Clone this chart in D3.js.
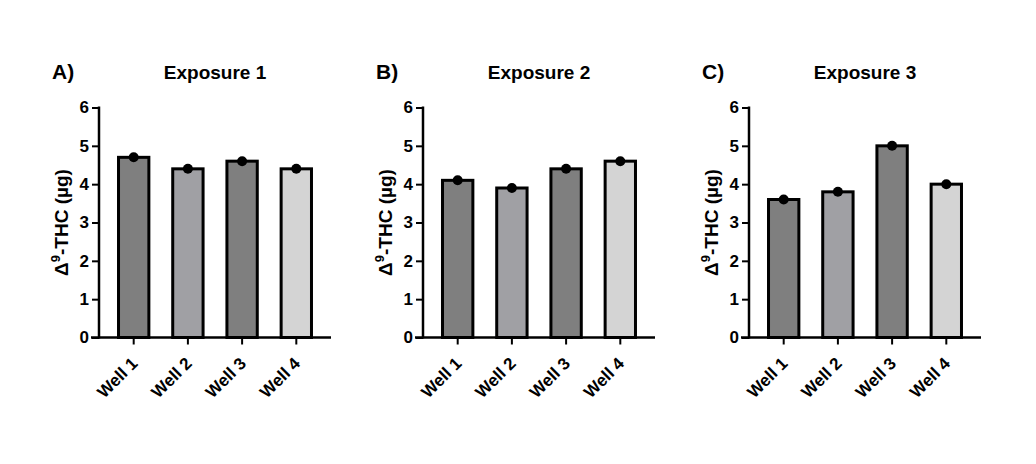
<!DOCTYPE html>
<html>
<head>
<meta charset="utf-8">
<script src="https://cdn.jsdelivr.net/npm/d3@7"></script>
<style>
  body { margin: 0; background: #fff; }
  svg text { font-family: "Liberation Sans", Arial, sans-serif; font-weight: bold; fill: #000; }
</style>
</head>
<body>
<svg id="chart" width="1036" height="464"></svg>
<script>
const wells = ['Well 1', 'Well 2', 'Well 3', 'Well 4'];
const panelLabels = ['A)', 'B)', 'C)'];
const panelTitles = ['Exposure 1', 'Exposure 2', 'Exposure 3'];
const exposure1 = [4.7, 4.4, 4.6, 4.4];
const exposure2 = [4.1, 3.9, 4.4, 4.6];
const exposure3 = [3.6, 3.8, 5.0, 4.0];
const yTicks = [0, 1, 2, 3, 4, 5, 6];
const wellColors = ['#7f7f7f', '#a0a0a4', '#7f7f7f', '#d4d4d4'];

const series = [exposure1, exposure2, exposure3];

const width = 232;
const height = 230;
const panelLeft = [99, 423, 749];
const plotTop = 107.5;

const svg = d3.select('#chart');

const scaleX = d3.scaleBand()
  .domain(wells)
  .range([0, width])
  .paddingInner(0.44)
  .paddingOuter(0.36);

const scaleY = d3.scaleLinear()
  .domain([0, 6])
  .range([height, 0]);

series.forEach((values, p) => {
  const g = svg.append('g')
    .attr('transform', `translate(${panelLeft[p]}, ${plotTop})`);

  // panel letter and title
  g.append('text')
    .attr('x', -47)
    .attr('y', -29)
    .attr('font-size', 21)
    .text(panelLabels[p]);

  g.append('text')
    .attr('x', width / 2)
    .attr('y', -29)
    .attr('text-anchor', 'middle')
    .attr('font-size', 19)
    .text(panelTitles[p]);

  // bars
  g.selectAll('rect.bar')
    .data(values)
    .enter()
    .append('rect')
    .attr('class', 'bar')
    .attr('x', (d, i) => scaleX(wells[i]))
    .attr('y', d => scaleY(d))
    .attr('width', scaleX.bandwidth())
    .attr('height', d => scaleY(0) - scaleY(d))
    .attr('fill', (d, i) => wellColors[i])
    .attr('stroke', '#000')
    .attr('stroke-width', 3);

  // points
  g.selectAll('circle.point')
    .data(values)
    .enter()
    .append('circle')
    .attr('class', 'point')
    .attr('cx', (d, i) => scaleX(wells[i]) + scaleX.bandwidth() / 2)
    .attr('cy', d => scaleY(d))
    .attr('r', 5)
    .attr('fill', '#000');

  // axes
  const axisY = d3.axisLeft(scaleY)
    .tickValues(yTicks)
    .tickFormat(d3.format('d'))
    .tickSize(7)
    .tickSizeOuter(0)
    .tickPadding(3);

  const gy = g.append('g').call(axisY);
  gy.select('.domain').attr('stroke-width', 2.5).attr('d', `M0,${height + 1}V-1`);
  gy.selectAll('.tick line').attr('stroke-width', 2);
  gy.selectAll('.tick text').attr('font-size', 17).attr('font-family', '"Liberation Sans", Arial, sans-serif');

  const axisX = d3.axisBottom(scaleX)
    .tickSize(7)
    .tickSizeOuter(0);

  const gx = g.append('g')
    .attr('transform', `translate(0, ${height})`)
    .call(axisX);
  gx.select('.domain').attr('stroke-width', 2.5).attr('d', `M-8,0H${width}`);
  gx.selectAll('.tick line').attr('stroke-width', 2);
  gx.selectAll('.tick text')
    .attr('font-size', 17)
    .attr('font-family', '"Liberation Sans", Arial, sans-serif')
    .attr('text-anchor', 'end')
    .attr('dy', null)
    .attr('y', 0)
    .attr('transform', 'translate(5, 27) rotate(-45)');

  // y axis title
  const yLabel = g.append('text')
    .attr('transform', `translate(-31, ${height / 2}) rotate(-90)`)
    .attr('text-anchor', 'middle')
    .attr('font-size', 19);
  yLabel.append('tspan').text('Δ');
  yLabel.append('tspan').attr('font-size', 13).attr('dy', -8).text('9');
  yLabel.append('tspan').attr('dy', 8).text('-THC (µg)');
});
</script>
</body>
</html>
